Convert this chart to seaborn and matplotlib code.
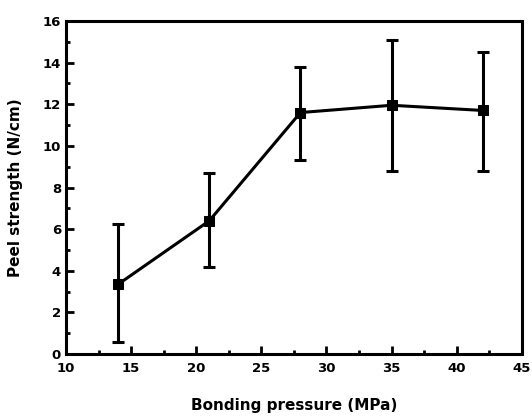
import matplotlib
matplotlib.use("Agg")
import matplotlib.pyplot as plt
import seaborn as sns
import numpy as np
import pandas as pd
from matplotlib.ticker import MultipleLocator

pressure = [14, 21, 28, 35, 42]
strength = [3.35, 6.4, 11.6, 11.95, 11.7]
err_lower = [0.6, 4.2, 9.3, 8.8, 8.8]
err_upper = [6.25, 8.7, 13.8, 15.1, 14.5]

sns.set_style("ticks")
plt.rcParams['font.family'] = ['DejaVu Sans']
plt.rcParams['text.color'] = 'black'
plt.rcParams['axes.labelcolor'] = 'black'
plt.rcParams['xtick.color'] = 'black'
plt.rcParams['ytick.color'] = 'black'

df = pd.DataFrame({"pressure": pressure, "strength": strength})

fig = plt.figure(figsize=(5.32, 4.19), dpi=100)
ax = fig.add_axes([0.124, 0.155, 0.857, 0.795])

yerr = np.array([np.array(strength) - np.array(err_lower),
                 np.array(err_upper) - np.array(strength)])
ax.errorbar(pressure, strength, yerr=yerr, fmt='none', ecolor='black',
            elinewidth=2.2, capsize=4, capthick=2.2)
sns.lineplot(data=df, x="pressure", y="strength", ax=ax, color='black',
             linewidth=2.2, marker='s', markersize=7, markeredgecolor='black')

ax.set_xlim(10, 45)
ax.set_ylim(0, 16)
ax.xaxis.set_major_locator(MultipleLocator(5))
ax.xaxis.set_minor_locator(MultipleLocator(2.5))
ax.yaxis.set_major_locator(MultipleLocator(2))
ax.yaxis.set_minor_locator(MultipleLocator(1))
ax.tick_params(which='both', direction='in', width=2, labelsize=9.5)
ax.tick_params(which='major', length=6)
ax.tick_params(which='minor', length=3)
ax.tick_params(axis='x', pad=6)
for lab in ax.get_xticklabels() + ax.get_yticklabels():
    lab.set_fontweight('bold')
for s in ax.spines.values():
    s.set_linewidth(2.2)
    s.set_edgecolor('black')
    s.set_visible(True)

ax.set_xlabel("Bonding pressure (MPa)", fontsize=11, fontweight='bold', labelpad=16)
ax.set_ylabel("Peel strength (N/cm)", fontsize=11, fontweight='bold', labelpad=14)

fig.savefig("out.png", dpi=100)
